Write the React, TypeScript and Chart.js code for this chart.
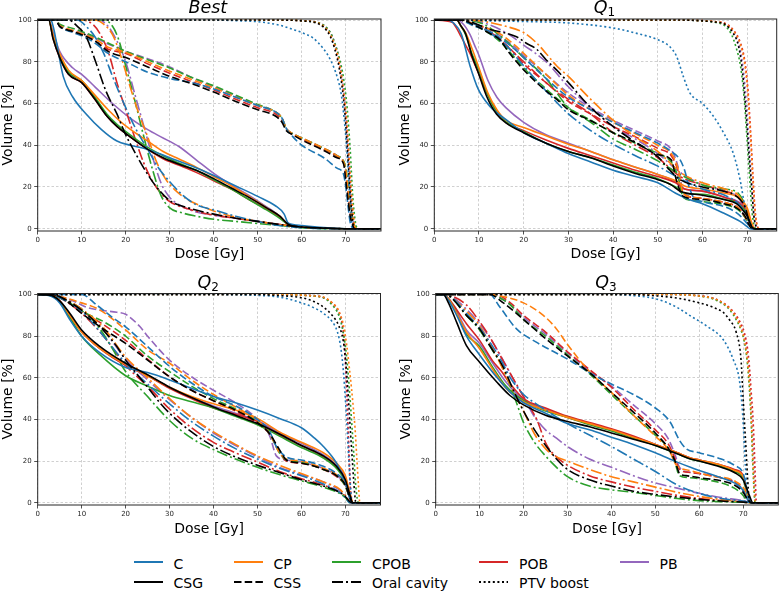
import React, { useEffect, useRef } from "react";
import { Chart, registerables } from "chart.js";

Chart.register(...registerables);

type Pt = [number, number];
type Curves = Record<string, Pt[]>;

// ---------- categories / styles ----------
const METHODS = ["C", "CP", "CPOB", "POB", "PB"];
const METHOD_COLORS = ["#1f77b4", "#ff7f0e", "#2ca02c", "#d62728", "#9467bd"];
const STRUCTURES = ["CSG", "CSS", "Oral cavity", "PTV boost"];
const STRUCTURE_DASH: number[][] = [[], [7.5, 3.2], [11, 3, 2, 3], [2, 2.6]];
const X_TICKS = [0, 10, 20, 30, 40, 50, 60, 70];
const Y_TICKS = [0, 20, 40, 60, 80, 100];

// ---------- data: [dose Gy, volume %] ----------
const BEST_CSG: Curves = {
  REF: [[0,100],[2.5,100],[3.5,91],[5,82],[7,74],[10,70],[13,62],[15.7,54],[18,49],[21,44],[25,38],[28.5,34],[32,31],[36,28],[40,24],[44,19.5],[48,15],[52,10],[55,6],[57,2],[60,0.8],[65,0.3],[70,0],[78,0]],
  C: [[0,100],[3,100],[3.5,97],[4.3,89],[5.8,73],[8,63],[11,55],[14.5,47.5],[18,42],[21,40],[25,38],[30,34],[35,30],[40,25.5],[45,20.5],[50,15.5],[54,11],[56,7],[56.8,3],[58,2],[60,1.5],[65,0.5],[70,0],[78,0]],
  CP: [[0,100],[2.5,100],[3.5,93],[5,84],[7,76],[10,71],[13,64],[16,57],[19,51],[22.5,45.5],[25,42],[28.5,37],[32,33.5],[36,29.5],[40,25],[44,20.5],[48,15.5],[52,10],[55,6],[57,2],[60,0.8],[65,0.3],[70,0],[78,0]],
  CPOB: [[0,100],[2.5,100],[3.5,92],[5,83],[7,75],[10,71],[13,63],[15.7,55],[18,50],[21,45],[25,39],[28.5,35],[32,31.5],[36,28],[40,23.5],[44,19],[48,14],[52,9],[55,5],[57,2],[60,0.7],[65,0.2],[70,0],[78,0]],
  POB: [[0,100],[2.5,100],[3.5,91],[5,82],[7,74],[10,70],[13,62],[15.7,54],[18,49],[21,44],[25,38],[28.5,33.5],[32,30.5],[36,27],[40,23],[44,19],[48,14],[52,9.5],[55,5.5],[57,2],[60,0.8],[65,0.3],[70,0],[78,0]],
  PB: [[0,100],[2.5,100],[3.5,94],[5,85],[8,77],[10,74],[13,68],[17,60],[21,53],[25,47.5],[28,44],[32,39.5],[36,33],[40,26.5],[44,21],[48,16],[52,10.5],[55,6],[57,2],[60,0.8],[65,0.3],[70,0],[78,0]],
};
const BEST_CSS: Curves = {
  REF: [[0,100],[4,100],[5,97],[8,94.5],[10,93],[13,90],[16,85],[20,82],[25,77.5],[30,73],[35,69.5],[40,65.5],[45,61],[50,57],[54,54],[55.5,51],[56.5,47],[58,45],[60,42.5],[65,37.5],[68,34],[69.5,31],[70,23],[70.5,14],[71,6],[71.5,2],[72,0],[78,0]],
  C: [[0,100],[4,100],[5,97],[8,94],[10,92.5],[13,89],[16,84],[20,80],[25,75],[30,72],[35,70],[40,67],[45,63],[50,59],[54,56],[55.5,53],[56.5,48],[58,44],[60,40],[65,34],[68,29],[69.5,26],[70,20],[70.5,11],[71,3],[71.5,0.5],[72,0],[78,0]],
  CP: [[0,100],[4,100],[5,97.5],[8,95],[10,93.5],[13,91],[16,87],[20,84.5],[25,80],[30,75.5],[35,71.5],[40,67.5],[45,63],[50,59],[54,56],[55.5,53],[56.5,48],[58,45.5],[60,43.5],[65,38.5],[68,35],[69.5,32],[70,28],[70.5,19],[71,10],[71.5,4],[72,1],[72.5,0],[78,0]],
  CPOB: [[0,100],[4,100],[5,98],[8,96],[10,94.5],[13,92],[16,89],[20,85],[25,81],[30,77],[35,72.5],[40,68.5],[45,64],[50,59.5],[54,56],[55.5,53],[56.5,48],[58,45.5],[60,43.5],[65,38.5],[68,35],[69.5,32.5],[70,29],[70.5,22],[71,12],[71.5,5],[72,1.5],[72.5,0],[78,0]],
  POB: [[0,100],[4,100],[5,97],[8,94.5],[10,93],[13,90],[16,86],[20,84],[25,79],[30,74.5],[35,70.5],[40,66.5],[45,62],[50,58],[54,55],[55.5,52],[56.5,47.5],[58,45],[60,43],[65,38],[68,34.5],[69.5,31.5],[70,27],[70.5,17],[71,8],[71.5,3],[72,0.5],[72.5,0],[78,0]],
  PB: [[0,100],[4,100],[5,97.5],[8,95],[10,94],[13,91.5],[16,88.5],[20,85],[25,81.5],[30,77.5],[35,72.5],[40,68],[45,63.5],[50,59],[54,56],[55.5,53],[56.5,48],[58,45.5],[60,43.5],[65,38.5],[68,35],[69.5,32],[70,27.5],[70.5,18],[71,9],[71.5,3],[72,0.5],[72.5,0],[78,0]],
};
const BEST_ORAL: Curves = {
  REF: [[0,100],[7,100],[9,97],[11,92],[13,81],[15.5,66],[18,55],[20,45],[22.5,35],[25,26],[27,20],[30,13.5],[35,9.5],[40,7],[45,5],[50,3.5],[55,2],[60,0.8],[65,0.3],[70,0],[78,0]],
  C: [[0,100],[9,100],[11,97],[13,92],[15,84],[17,73],[20,58],[22.5,47],[25,38],[27.5,29],[30,22.5],[33,16],[36,11.5],[40,9],[45,6],[50,3.5],[55,1.5],[60,0.5],[65,0],[78,0]],
  CP: [[0,100],[13,100],[15,98],[17,93],[19,82],[21,68],[23,55],[25,44],[27,32],[29,24],[31,19],[34,14],[37,11],[40,8.5],[45,5.5],[50,3.5],[55,2],[60,0.8],[65,0.3],[70,0],[78,0]],
  CPOB: [[0,100],[15,100],[17,97],[18.5,90],[20,78],[22,62],[24,45],[26,29],[28,16],[30,10],[33,7.5],[36,6],[40,4.5],[45,3.5],[50,2.5],[55,1.5],[60,0.5],[65,0],[78,0]],
  POB: [[0,100],[10,100],[12.5,98],[14,94],[16,85],[18,70],[20,57],[22,44],[24,32],[26,23],[28,17],[30,13],[35,9],[40,6.5],[45,5],[50,3.5],[55,2],[60,0.8],[65,0.3],[70,0],[78,0]],
  PB: [[0,100],[14,100],[16,97],[18,90],[20,80],[22,65],[24,50],[26,35],[28,22],[30,15],[33,10.5],[36,8],[40,6.5],[45,5],[50,3.5],[55,2],[60,0.8],[65,0.3],[70,0],[78,0]],
};
const BEST_PTV: Curves = {
  REF: [[0,100],[55,100],[60,99.6],[63,98.8],[65,96.5],[66.5,92],[67.5,86],[68.5,77],[69.5,62],[70,50],[70.6,30],[71.1,14],[71.7,2],[72.2,0],[78,0]],
  C: [[0,100],[40,100],[45,99.7],[50,99.2],[55,97.5],[58,95.5],[60,94],[62.5,91.5],[65,86],[66.5,81],[68,73],[69,64],[69.8,49],[70.3,36],[70.7,22],[71.1,10],[71.5,1],[72,0],[78,0]],
  CP: [[0,100],[55,100],[60,99.7],[63,99],[65,97],[66.5,93],[67.5,88],[68.5,80],[69.5,66],[70.2,52],[70.8,32],[71.4,14],[72,2],[72.5,0],[78,0]],
  CPOB: [[0,100],[55,100],[60,99.7],[63,99],[65,97.5],[66.5,94],[67.5,89],[68.5,82],[69.5,72],[70.3,58],[71,38],[71.6,15],[72.2,3],[72.7,0],[78,0]],
  POB: [[0,100],[55,100],[60,99.7],[63,99],[65,97],[66.5,93],[67.5,87.5],[68.5,79],[69.5,65],[70.2,50],[70.8,30],[71.3,14],[71.9,2],[72.4,0],[78,0]],
  PB: [[0,100],[55,100],[60,99.7],[63,99.2],[65,97.5],[66.5,94],[67.5,89],[68.5,81],[69.5,66],[70.2,50],[70.8,30],[71.3,13],[71.9,2],[72.4,0],[78,0]],
};

const Q1_CSG: Curves = {
  REF: [[0,100],[5,100],[6,97],[7,93.5],[8.4,83],[9.8,75],[11.7,63.5],[13.9,55],[16.2,50.5],[20,46],[25,41],[30,37],[35,34],[40,30],[45,26.5],[50,23.5],[53,21],[55,18],[60,16],[64.7,14],[67.6,12],[69,9],[70,6],[71,1],[71.7,0],[78,0]],
  C: [[0,100],[3,100],[4.3,98.6],[6,93.5],[8,78],[9.8,67],[12.5,58.5],[16.2,52],[20,46],[25,41],[30,36],[35,32],[40,28],[45,25],[50,22],[54,17],[57,14],[60,12],[64.7,7.5],[68.4,3.5],[70,1],[70.6,0],[78,0]],
  CP: [[0,100],[5,100],[6,97],[7,94],[8.5,86],[10,77],[12,65],[14,57],[16,52],[20,48.5],[25,44.5],[30,40.5],[35,37],[40,33],[45,29.5],[50,26],[54,23],[56,20.5],[60,19],[65,17],[68,15],[70,10],[71,3],[71.7,0],[78,0]],
  CPOB: [[0,100],[5,100],[6,97],[7,93],[8.4,84],[10,76],[12,64],[14,56],[16.2,51],[20,46.5],[25,41],[30,37],[35,34],[40,30.5],[45,27],[50,24],[54,20],[56,17],[60,16.5],[65,14],[68,12],[70,7],[71,1.5],[71.7,0],[78,0]],
  POB: [[0,100],[4,99],[5,96],[6,92],[7,88],[8,84],[9,79],[10,74],[12,64],[14,56],[16,51],[20,47],[25,42.5],[30,38.5],[35,35],[40,31.5],[45,28],[50,25],[54,22],[56,19],[60,18],[65,15],[68,12.5],[70,8],[71,2],[71.7,0],[78,0]],
  PB: [[0,100],[5,100],[6.5,98],[8,93],[9,88],[10,83],[12,71],[14,63],[16,58],[20,51],[25,45],[30,41],[35,37],[40,33],[45,29.5],[50,26],[54,22.5],[56,19],[60,18],[65,15],[68,13],[70,9],[71,2],[71.7,0],[78,0]],
};
const Q1_CSS: Curves = {
  REF: [[0,100],[5.7,100],[9.5,97],[12,94],[14.7,90.5],[16.5,85],[18.4,80],[20.5,75],[22.9,70],[25,66],[27.4,62],[30,57],[34.8,52],[40,46],[45.3,41],[50,35.5],[53,33],[54.2,23],[55.7,15.5],[60,14],[64.7,12],[67.6,10],[69.5,6],[70.6,1],[71.5,0],[78,0]],
  C: [[0,100],[5.7,100],[9,97],[12,95],[15,91],[18,86],[20,82],[25,72],[30,63],[35,57],[40,51],[45,46],[50,41],[53,37],[55,33],[56,28],[57,20],[58,15],[60,13],[65,10.5],[68,7],[70,2.5],[71,0],[78,0]],
  CP: [[0,100],[5.7,100],[9,98],[12,96],[15,93],[18,88],[20,84],[25,74],[30,64],[35,57],[40,51],[45,45.5],[50,40],[53,36],[54.5,29],[55.7,17],[58,15],[60,14.5],[65,12.5],[68,10],[70,4],[71,0.5],[71.5,0],[78,0]],
  CPOB: [[0,100],[5.7,100],[9,97.5],[12,94],[15,89],[18,82],[20,77],[25,67],[30,58],[35,52],[40,46],[45,41],[50,36],[53,32],[54.5,25],[55.7,15],[58,13.5],[60,13],[65,11.5],[68,9],[70,4],[71,0.5],[71.5,0],[78,0]],
  POB: [[0,100],[5.7,100],[9,98],[12,95],[15,90],[18,84],[20,79],[25,70],[30,61],[35,55],[40,49],[45,44],[50,38.5],[53,35],[54.5,28],[55.7,17],[58,15],[60,14.5],[65,12.5],[68,10],[70,4],[71,0.5],[71.5,0],[78,0]],
  PB: [[0,100],[5.7,100],[9,98],[12,96],[15,92],[18,87],[20,83],[25,74],[30,65],[35,58],[40,52],[45,47],[50,42],[53,38],[54.5,30],[55.7,18],[58,15],[60,14.5],[65,12.5],[68,10],[70,4],[71,0.5],[71.5,0],[78,0]],
};
const Q1_ORAL: Curves = {
  REF: [[0,100],[6,100],[12.5,95.5],[18.4,92],[20.5,89],[22.9,86],[25,81],[27.4,76],[30,70],[34.8,58.5],[40,49],[45.3,41],[50,34.5],[52.7,28],[55,23.5],[60,20],[64.7,18],[67.6,15.5],[69.5,10.5],[70.6,2.5],[71.5,0],[78,0]],
  C: [[0,100],[6,100],[10,97],[13,93],[16.2,87.5],[20,78],[25,66],[30,55],[35,47],[40,40.5],[45,35],[50,30],[55,24],[60,19],[65,16],[68,12],[70,6],[71,1],[71.5,0],[78,0]],
  CP: [[0,100],[8,100],[12,99],[16,97],[20,94],[22.9,89],[25,84],[27.4,78],[30,73],[35,62],[40,52],[45,44],[50,37],[53,31],[55,27],[60,22],[65,19],[68,16],[70,8],[71,1],[71.5,0],[78,0]],
  CPOB: [[0,100],[7,100],[11,98],[15,92],[20,82],[25,72],[30,58],[35,51],[40,43],[45,38],[50,32.5],[55,26],[60,21],[65,19],[68,17],[70,9],[71,1.5],[71.5,0],[78,0]],
  POB: [[0,100],[6,100],[10,97],[14,92],[17,86],[20,80],[25,70],[30,62],[35,55],[40,46],[45,40],[50,34],[55,25],[60,21],[65,18],[68,15],[70,8],[71,1],[71.5,0],[78,0]],
  PB: [[0,100],[7,100],[12,98],[16,94],[20,88],[25,80],[30,68],[35,58],[40,49],[45,43],[50,36],[55,27],[60,21],[65,18],[68,15],[70,8],[71,1],[71.5,0],[78,0]],
};
const Q1_PTV: Curves = {
  REF: [[0,100],[55,100],[60,99.6],[63,99],[65,98],[66.9,93.5],[68,88],[68.8,78],[69.5,62],[70,48],[70.5,33],[71,20],[71.5,6],[72,1],[72.5,0],[78,0]],
  C: [[0,100],[5,100],[10,99.7],[20,99.3],[30,98.6],[40,96.2],[45.3,93.6],[50,90.6],[52.6,87.4],[54.2,82.6],[55.7,73],[57.2,65],[60,60],[62.4,54],[64.7,46],[66.9,36],[68.4,23.5],[69.5,10.5],[70.5,2.6],[71.1,0],[78,0]],
  CP: [[0,100],[55,100],[60,99.7],[63,99.2],[65,98.3],[67,94.5],[68.5,88],[69.5,78],[70.2,63],[70.8,42],[71.3,22],[71.8,7],[72.3,1],[72.8,0],[78,0]],
  CPOB: [[0,100],[55,100],[60,99.6],[63,98.8],[65,97.3],[66.5,93],[67.5,87],[68.5,78],[69.3,63],[69.9,45],[70.5,26],[71,10],[71.5,2],[72,0],[78,0]],
  POB: [[0,100],[55,100],[60,99.7],[63,99.2],[65,98.5],[67,95],[68.5,89],[69.5,80],[70.2,66],[70.8,45],[71.3,25],[71.8,8],[72.3,1],[72.8,0],[78,0]],
  PB: [[0,100],[55,100],[60,99.6],[63,99],[65,98],[67,94],[68.3,87],[69.2,75],[69.9,58],[70.5,38],[71.1,18],[71.6,5],[72.1,0.5],[72.5,0],[78,0]],
};

const Q2_CSG: Curves = {
  REF: [[0,100],[2.8,99.7],[5,97],[7.3,91],[10,83],[14.2,75],[20,67],[25,61.5],[30,55.5],[35,50.5],[40,46],[45,42],[50,38],[55,33],[60,27.5],[65,22.5],[68,17.5],[70,11],[71,4],[71.7,0],[78,0]],
  C: [[0,100],[2.5,99.5],[5,96],[7.3,88],[10,80],[14.2,72],[20,65],[23,63.5],[25,62.5],[30,59],[35,55],[40,51],[45,48],[50,44.5],[55,40.5],[60,36],[63,31],[65,27],[68,19],[70,10],[71,2],[71.5,0],[78,0]],
  CP: [[0,100],[2.8,99.7],[5,97],[7.3,90],[10,82],[14.2,74],[20,66.5],[25,61],[30,55.5],[35,51],[40,47.5],[45,44.5],[50,40.5],[55,34],[60,29],[65,24],[68,19],[70,13],[71,5],[71.8,0],[78,0]],
  CPOB: [[0,100],[2.8,99.5],[5,96.5],[7.3,89],[10,80],[14.2,71],[20,61],[25,56],[30,51.5],[35,48.5],[40,45.5],[45,41.5],[50,37.5],[55,32],[60,26.5],[65,21.5],[68,16.5],[70,10],[71,3],[71.7,0],[78,0]],
  POB: [[0,100],[2.8,99.7],[5,97],[7.3,90],[10,82],[14.2,74],[20,66],[25,61],[30,55],[35,50],[40,45.5],[45,42.5],[50,39],[55,32.5],[60,27.5],[65,22],[68,17],[70,11],[71,3.5],[71.7,0],[78,0]],
  PB: [[0,100],[2.8,99.7],[5,97],[7.3,90],[10,82],[14.2,74],[20,66],[25,61],[30,55.5],[35,50.5],[40,46.5],[45,43],[50,39.5],[55,33.5],[60,28.5],[65,23],[68,18],[70,12],[71,4],[71.7,0],[78,0]],
};
const Q2_CSS: Curves = {
  REF: [[0,100],[3,100],[5,99],[10,91],[14.2,84.5],[20,76.5],[25,68.5],[30,60.5],[35,54],[40,49],[45,44.5],[50,38.5],[52.8,33],[55,25.5],[56.6,20.5],[60,19],[65,16],[68,13],[70,8.5],[71,2.5],[71.7,0],[78,0]],
  C: [[0,100],[10,100],[13.4,95],[17,89],[20,84.5],[25,75],[30,65.5],[35,57.5],[40,51],[45,46.5],[50,40],[52.8,34],[54.3,27],[56.6,22],[60,20.5],[65,17.5],[68,14],[70,9.5],[71,3],[71.7,0],[78,0]],
  CP: [[0,100],[5,99],[10,96],[14.2,92.5],[20,83],[25,73.5],[30,67],[35,59],[40,52],[45,46],[50,39.5],[52.8,33],[55,24],[56.6,21],[60,20],[65,16.5],[68,13.5],[70,9],[71,3],[71.7,0],[78,0]],
  CPOB: [[0,100],[4,99.5],[8,95],[11,91],[15,87],[20,80],[25,70.5],[30,63],[35,56],[40,50],[45,45],[50,39],[52.8,33],[55,24],[56.6,20.5],[60,19.5],[65,16],[68,13],[70,8],[71,2.5],[71.7,0],[78,0]],
  POB: [[0,100],[3,100],[5,98.5],[10,92],[15,85.5],[20,78],[25,69],[30,60.5],[35,54],[40,49],[45,44],[50,38],[52.8,33],[55,24.5],[56.6,20],[60,19],[65,16],[68,12.5],[70,8],[71,2.5],[71.7,0],[78,0]],
  PB: [[0,100],[5,99],[8,97],[11,94],[14.2,92.5],[18,91.5],[20,90.5],[23.3,84.5],[25,80],[30,68.5],[35,60.5],[40,54],[45,48],[50,40],[52.8,32],[54.3,22.5],[56.6,20.5],[60,19.5],[65,16.5],[68,13],[70,8.5],[71,2.5],[71.7,0],[78,0]],
};
const Q2_ORAL: Curves = {
  REF: [[0,100],[3,100],[5,99],[10,92.5],[14.2,84.5],[18,75],[20,68.5],[22.5,62],[25,55.5],[27.8,48],[30,43],[35,34],[40,27],[45,22],[50,18],[55,14.5],[60,11],[65,8],[68.7,5],[70,3],[71,0.5],[71.5,0],[78,0]],
  C: [[0,100],[3,100],[5,98.5],[10,92],[15,80],[20,67],[25,57],[30,47.5],[35,39],[40,32],[45,26],[50,21],[55,16.5],[60,13],[65,9],[68.7,5],[70,2.5],[71,0],[78,0]],
  CP: [[0,100],[3,100],[5,99],[10,93],[15,84],[20,70],[25,60],[30,50],[35,41],[40,34],[45,28],[50,22.5],[55,18],[60,14],[65,10],[68.7,6.5],[70,3.5],[71,0.5],[71.5,0],[78,0]],
  CPOB: [[0,100],[3,100],[5,98.5],[10,93],[14,84],[17,74],[20,63],[25,51],[30,39.5],[35,31],[40,25.5],[45,21],[50,17],[55,13.5],[60,10.5],[65,7.5],[68.7,4.5],[70,2.5],[71,0],[78,0]],
  POB: [[0,100],[3,100],[5,98.5],[10,91],[15,80],[20,66],[25,56],[30,45],[35,36],[40,29],[45,24],[50,19.5],[55,15],[60,11.5],[65,8.5],[68.7,5],[70,3],[71,0.5],[71.5,0],[78,0]],
  PB: [[0,100],[3,100],[5,99],[10,93],[15,83],[20,69],[25,59],[30,49.5],[35,41],[40,33.5],[45,27.5],[50,22],[55,17],[60,13.5],[65,10],[68.7,6],[70,3.5],[71,0.5],[71.5,0],[78,0]],
};
const Q2_PTV: Curves = {
  REF: [[0,100],[50,100],[55,99.5],[60,98.5],[63,96.5],[65,94],[67,90],[68.5,85],[69.5,78],[70.2,65],[70.7,50],[71.2,33],[71.7,17],[72.1,5],[72.4,0],[78,0]],
  C: [[0,100],[40,100],[50,99.6],[55,98.8],[60,96],[63,93.5],[65,91],[67,87],[68.2,82],[69,74],[69.6,62],[70,50],[70.4,36],[70.8,20],[71.2,6],[71.5,0],[78,0]],
  CP: [[0,100],[55,100],[60,99.7],[63,99.3],[65,98.8],[67,96],[68.5,92],[69.5,86],[70.3,76],[70.9,65],[71.4,55],[71.8,46],[72.2,36],[72.6,22],[73,8],[73.3,0],[78,0]],
  CPOB: [[0,100],[55,100],[60,99.7],[63,99.2],[65,98.5],[67,95],[68.5,90],[69.5,82],[70.3,70],[70.9,55],[71.4,40],[71.9,24],[72.3,10],[72.7,2],[73,0],[78,0]],
  POB: [[0,100],[55,100],[60,99.7],[63,99.3],[65,98.6],[67,96],[68.5,92],[69.3,86],[69.8,76],[70.2,60],[70.5,42],[70.8,24],[71.1,8],[71.4,1],[71.6,0],[78,0]],
  PB: [[0,100],[55,100],[60,99.7],[63,99.3],[65,98.6],[67,95.5],[68.5,91],[69.3,85],[69.8,75],[70.2,60],[70.6,40],[70.9,22],[71.2,7],[71.5,1],[71.7,0],[78,0]],
};

const Q3_CSG: Curves = {
  REF: [[0,100],[1.7,100],[2.9,96],[4.8,86.5],[7,75.5],[10,67.5],[13.9,58],[16.9,51.5],[20,47],[25,42],[30,39],[35,36.5],[40,33.5],[45,30.5],[50,27.5],[55,23.5],[58,21],[60,20],[65,17],[68,14.5],[70,11],[71.4,3.5],[72.2,0],[78,0]],
  C: [[0,100],[1.7,100],[3,97],[5,89],[7,80],[10,71],[14,60],[17,53],[20,48],[25,43],[30,38],[35,35],[40,31.5],[45,28],[50,24],[55,19.5],[58,17],[60,15.5],[65,12],[68,9.5],[70,6],[71,1.5],[71.8,0],[78,0]],
  CP: [[0,100],[1.7,100],[3,97.5],[5,90],[7,82],[10,74],[13,64],[16,55],[20,48.5],[25,44.5],[30,41],[35,38],[40,35],[45,31.5],[50,28],[55,24],[58,21.5],[60,20.5],[65,18],[68,15.5],[70,12.5],[71,4.5],[71.8,0],[78,0]],
  CPOB: [[0,100],[1.7,100],[3,97.5],[5,90],[7,81],[10,75],[13,65],[16,56],[20,49],[25,44],[30,41],[35,37.5],[40,34.5],[45,31],[50,27.5],[55,23.5],[58,21],[60,20],[65,17.5],[68,15],[70,11.5],[71,3.5],[71.8,0],[78,0]],
  POB: [[0,100],[1.7,100],[3,98],[5,92],[7,86],[10,78],[13,68],[15,63],[17,57],[20,50],[25,45.5],[30,41.5],[35,38.5],[40,35.5],[45,32],[50,28],[55,24],[58,21.5],[60,20.5],[65,18],[68,16],[70,13],[71,5],[71.8,0],[78,0]],
  PB: [[0,100],[1.7,100],[3,97.5],[5,91],[7,83],[10,76.5],[13,67],[16,58],[20,49.5],[25,45],[30,41],[35,38],[40,35],[45,31.5],[50,28],[55,24],[58,21.5],[60,20.5],[65,18],[68,15.5],[70,12],[71,4],[71.8,0],[78,0]],
};
const Q3_CSS: Curves = {
  REF: [[0,100],[12.3,100],[15.4,96],[20,88],[25.2,78.5],[30,70.5],[35,62.5],[40,53],[45,43.5],[50,33.5],[53,26],[54.5,20],[55.5,14],[57,13],[60,12],[65,10.5],[68,8.5],[70,5],[71,1.5],[71.8,0],[78,0]],
  C: [[0,100],[12.3,100],[14.6,94],[18.4,83.5],[23,77],[30,69],[35,62.5],[40,57],[45,52],[50,45.5],[53.3,39],[55.5,30],[57,26],[60,24],[65,21],[68,18],[70,14],[70.7,8],[71.5,1],[72,0],[78,0]],
  CP: [[0,100],[12.3,100],[14.6,99.4],[20,96],[24.5,90],[27.5,83.5],[30,76],[35,63],[40,53],[45,42],[50,32],[53.3,24.5],[54.8,18],[57.8,15.5],[62.4,13],[68.4,10],[70.7,5],[71.5,0],[78,0]],
  CPOB: [[0,100],[12.3,100],[15,98],[17,95],[20,88],[25,80],[30,71],[35,62],[40,52],[45,42],[50,32.5],[53,26],[54.5,19],[55.5,13],[58,12],[60,11.5],[65,9.5],[68,7],[70,3.5],[71,0.5],[71.5,0],[78,0]],
  POB: [[0,100],[12.3,100],[14.6,99.4],[17,96],[20,90],[25,82],[30,72.5],[35,64],[40,55.5],[45,45],[50,35],[53,28],[54.5,21],[55.5,16],[58,14.5],[60,14],[65,12],[68,10],[70,6],[71,1.5],[71.8,0],[78,0]],
  PB: [[0,100],[12.3,100],[15,98],[17,95],[20,89],[25,81],[30,72],[35,63.5],[40,56],[45,47],[50,38],[53,30.5],[54.5,23],[55.5,17],[58,14.5],[60,14],[65,12],[68,10],[70,5.5],[71,1],[71.7,0],[78,0]],
};
const Q3_ORAL: Curves = {
  REF: [[0,100],[2,100],[3.3,99],[7,90],[10,83.5],[12.3,75.5],[15.4,65],[17.7,54],[20,44],[22.5,35],[25.2,27],[27.5,21],[30,16],[35,11],[40,8],[45,5.5],[50,4],[55,2.7],[60,1.6],[65,0.8],[70,0.3],[72,0],[78,0]],
  C: [[0,100],[2,100],[4,98],[7,91],[10,84],[13,75],[15,68],[17,60],[20,52],[22.5,48],[25,44.5],[30,38],[35,32.5],[40,27],[45,21],[50,15],[55,8.5],[60,4.5],[65,2],[70,0.8],[72,0],[78,0]],
  CP: [[0,100],[2,100],[4,98],[7,92],[10,85],[13,74],[16,61],[18,52],[20,44],[22.5,33],[25.2,25.5],[27.5,22],[30,20],[35,16],[40,12.5],[45,10],[50,7.5],[55,5],[60,3],[65,1.5],[70,0.5],[72,0],[78,0]],
  CPOB: [[0,100],[2,100],[3.5,98.5],[7,90],[10,83],[13,73],[15,66],[17,56],[18.4,48],[20,38.5],[22.5,29],[25.2,22],[28,16],[30,12.5],[35,8],[40,6.2],[45,5],[50,3.5],[55,2],[60,1],[65,0.5],[70,0.2],[72,0],[78,0]],
  POB: [[0,100],[2,100],[4,99],[7,95],[10,87],[12.5,79],[14.6,71],[17,62],[20,51],[23,40],[25.2,28],[27.5,22],[30,18],[35,13],[40,10],[45,7.5],[50,5.5],[55,3.5],[60,2],[65,1],[70,0.3],[72,0],[78,0]],
  PB: [[0,100],[2,100],[4,98.5],[7,93],[10,86],[13,77],[16,66],[18,58],[20,51],[22,43],[25,35],[27.5,31],[30,27],[35,21],[40,17],[45,13],[50,9.5],[55,7],[60,4.5],[65,2.5],[70,1],[72,0],[78,0]],
};
const Q3_PTV: Curves = {
  REF: [[0,100],[45,100],[50,99.4],[55,98.3],[60,96],[63,94],[65.4,91.5],[67,87.5],[68.4,82],[69.5,69],[70,50],[70.4,35],[70.7,24],[71,12],[71.3,3],[71.6,0],[78,0]],
  C: [[0,100],[40,100],[45,99.5],[50,98],[54.8,94],[57.8,90],[61.6,85],[65.4,78.5],[67.7,69],[69.2,58],[69.9,42],[70.5,18],[71.1,0],[78,0]],
  CP: [[0,100],[55,100],[60,99.3],[63,98.3],[65.4,96],[67,93],[68.4,89],[69.5,84],[70.3,78],[71,68],[71.5,55],[71.9,38],[72.2,22],[72.5,7],[72.8,0],[78,0]],
  CPOB: [[0,100],[55,100],[60,99.3],[63,98],[65.4,95.5],[67,92.5],[68.4,88],[69.5,83],[70.3,77],[71,66],[71.5,52],[71.9,35],[72.2,18],[72.5,5],[72.7,0],[78,0]],
  POB: [[0,100],[55,100],[60,99.4],[63,98.3],[65.4,96],[67,93.5],[68.4,90],[69.5,86],[70.3,81.5],[71,74],[71.4,66],[71.8,54],[72.2,42],[72.5,28],[72.8,10],[73,0],[78,0]],
  PB: [[0,100],[55,100],[60,99.4],[63,98.5],[65.4,96],[67,93],[68.4,89],[69.5,84.5],[70.3,79],[71,70],[71.5,58],[71.9,42],[72.3,25],[72.6,8],[72.9,0],[78,0]],
};

// ---------- layout ----------
type Area = { l: number; t: number; r: number; b: number };
interface PanelSpec {
  title: string;
  sub: string;
  curves: Curves[];
  xMax: number;
  left: number;
  top: number;
  w: number;
  h: number;
  area: Area;
}

const PANELS: PanelSpec[] = [
  { title: "Best", sub: "", curves: [BEST_CSG, BEST_CSS, BEST_ORAL, BEST_PTV], xMax: 78, left: 0, top: 0, w: 390, h: 250, area: { l: 37.7, t: 19, r: 381, b: 231 } },
  { title: "Q", sub: "1", curves: [Q1_CSG, Q1_CSS, Q1_ORAL, Q1_PTV], xMax: 76.6, left: 390, top: 0, w: 390, h: 250, area: { l: 44.3, t: 19, r: 386.7, b: 231 } },
  { title: "Q", sub: "2", curves: [Q2_CSG, Q2_CSS, Q2_ORAL, Q2_PTV], xMax: 78, left: 0, top: 270, w: 390, h: 255, area: { l: 37.7, t: 23.5, r: 380.5, b: 235 } },
  { title: "Q", sub: "3", curves: [Q3_CSG, Q3_CSS, Q3_ORAL, Q3_PTV], xMax: 78, left: 390, top: 270, w: 390, h: 255, area: { l: 45.7, t: 23.5, r: 388.3, b: 235 } },
];

const FONT = "'DejaVu Sans', 'Liberation Sans', sans-serif";

const framePlugin = {
  id: "frame",
  afterDraw(chart: any) {
    const { ctx, chartArea } = chart;
    ctx.save();
    ctx.strokeStyle = "#262626";
    ctx.lineWidth = 1;
    ctx.strokeRect(chartArea.left, chartArea.top, chartArea.right - chartArea.left, chartArea.bottom - chartArea.top);
    ctx.restore();
  },
};

function buildDatasets(curves: Curves[]) {
  const ds: any[] = [];
  const keys = ["REF", ...METHODS];
  const colors = ["#000000", ...METHOD_COLORS];
  keys.forEach((k, ki) => {
    curves.forEach((c, si) => {
      const pts = c[k];
      ds.push({
        label: `${k} ${STRUCTURES[si]}`,
        data: pts.map(([x, y]) => ({ x, y })),
        borderColor: colors[ki],
        borderWidth: 1.6,
        borderDash: STRUCTURE_DASH[si],
        borderCapStyle: "butt",
        pointRadius: 0,
        fill: false,
        cubicInterpolationMode: "monotone",
      });
    });
  });
  return ds;
}

function Panel({ spec }: { spec: PanelSpec }) {
  const ref = useRef<HTMLCanvasElement>(null);
  useEffect(() => {
    const a = spec.area;
    const gridCommon = {
      color: "#c4c4c4",
      lineWidth: 0.8,
      borderDash: [2.5, 2],
      tickLength: 3.5,
      tickColor: "#262626",
      tickWidth: 0.8,
      tickBorderDash: [],
    };
    const chart = new Chart(ref.current as HTMLCanvasElement, {
      type: "line",
      data: { datasets: buildDatasets(spec.curves) },
      options: {
        animation: false,
        responsive: false,
        devicePixelRatio: 1,
        events: [],
        layout: { padding: { left: 0, top: a.t, right: spec.w - a.r, bottom: 0 } },
        plugins: { legend: { display: false }, tooltip: { enabled: false }, title: { display: false } },
        scales: {
          x: {
            type: "linear",
            min: 0,
            max: spec.xMax,
            afterBuildTicks: (s: any) => {
              s.ticks = X_TICKS.map((v) => ({ value: v }));
            },
            afterFit: (s: any) => {
              s.height = spec.h - a.b;
            },
            grid: gridCommon,
            border: { display: false, dash: [2.5, 2] },
            ticks: { font: { family: FONT, size: 7 }, color: "#262626", padding: 1.2, maxRotation: 0, autoSkip: false },
          },
          y: {
            type: "linear",
            min: -1.1,
            max: 100.5,
            afterBuildTicks: (s: any) => {
              s.ticks = Y_TICKS.map((v) => ({ value: v }));
            },
            afterFit: (s: any) => {
              s.width = a.l;
            },
            grid: gridCommon,
            border: { display: false, dash: [2.5, 2] },
            ticks: { font: { family: FONT, size: 7 }, color: "#262626", padding: 2.5, autoSkip: false },
          },
        },
      } as any,
      plugins: [framePlugin],
    });
    return () => chart.destroy();
  }, [spec]);
  return (
    <canvas
      ref={ref}
      width={spec.w}
      height={spec.h}
      style={{ position: "absolute", left: spec.left, top: spec.top, width: spec.w, height: spec.h }}
    />
  );
}

function Text({ x, baseline, size, children, align = "center", style = {} }: any) {
  const top = baseline - 0.846 * size;
  return (
    <div
      style={{
        position: "absolute",
        left: x,
        top,
        fontSize: size,
        lineHeight: `${size}px`,
        whiteSpace: "nowrap",
        fontFamily: FONT,
        color: "#000",
        transform: align === "center" ? "translateX(-50%)" : undefined,
        ...style,
      }}
    >
      {children}
    </div>
  );
}

const LEGEND_ROW1 = METHODS.map((m, i) => ({ label: m, color: METHOD_COLORS[i], dash: [] as number[] }));
const LEGEND_ROW2 = STRUCTURES.map((s, i) => ({ label: s, color: "#000000", dash: STRUCTURE_DASH[i] }));
const LEGEND_COL_X = [133.5, 233.5, 332, 479, 619.5];

function LegendItem({ x, y, color, dash, label }: any) {
  return (
    <>
      <svg width={29} height={6} style={{ position: "absolute", left: x, top: y - 3, overflow: "visible" }}>
        <line x1={0} y1={3} x2={29} y2={3} stroke={color} strokeWidth={2} strokeDasharray={dash.length ? dash.join(" ") : undefined} />
      </svg>
      <Text x={x + 40} baseline={y + 6.2} size={14} align="left">
        {label}
      </Text>
    </>
  );
}

export default function App() {
  const axisCenters = PANELS.map((p) => ({
    cx: p.left + (p.area.l + p.area.r) / 2,
    cy: p.top + (p.area.t + p.area.b) / 2,
    spineL: p.left + p.area.l,
    bottom: p.top + p.area.b,
    top: p.top + p.area.t,
  }));
  return (
    <div style={{ position: "absolute", left: 0, top: 0, width: 780, height: 597, background: "#fff", overflow: "hidden" }}>
      {PANELS.map((p, i) => (
        <Panel key={i} spec={p} />
      ))}
      {PANELS.map((p, i) => {
        const c = axisCenters[i];
        const titleBase = i < 2 ? 14 : 289;
        const doseBase = i < 2 ? 258 : 532.7;
        return (
          <React.Fragment key={"t" + i}>
            <Text x={i === 0 ? c.cx - 1.5 : c.cx - 1} baseline={titleBase} size={17.5}>
              <span style={{ fontStyle: "italic" }}>{p.title}</span>
              {p.sub ? <span style={{ fontSize: 12, position: "relative", top: 3 }}>{p.sub}</span> : null}
            </Text>
            <Text x={c.cx} baseline={doseBase} size={14}>
              Dose [Gy]
            </Text>
            <div
              style={{
                position: "absolute",
                left: c.spineL - 30.4,
                top: c.cy,
                fontSize: 14,
                lineHeight: "14px",
                fontFamily: FONT,
                whiteSpace: "nowrap",
                color: "#000",
                transform: "translate(-50%, -50%) rotate(-90deg)",
              }}
            >
              Volume [%]
            </div>
          </React.Fragment>
        );
      })}
      {LEGEND_ROW1.map((it, i) => (
        <LegendItem key={"l1" + i} x={LEGEND_COL_X[i]} y={562.3} color={it.color} dash={it.dash} label={it.label} />
      ))}
      {LEGEND_ROW2.map((it, i) => (
        <LegendItem key={"l2" + i} x={LEGEND_COL_X[i]} y={581.8} color={it.color} dash={it.dash} label={it.label} />
      ))}
    </div>
  );
}
